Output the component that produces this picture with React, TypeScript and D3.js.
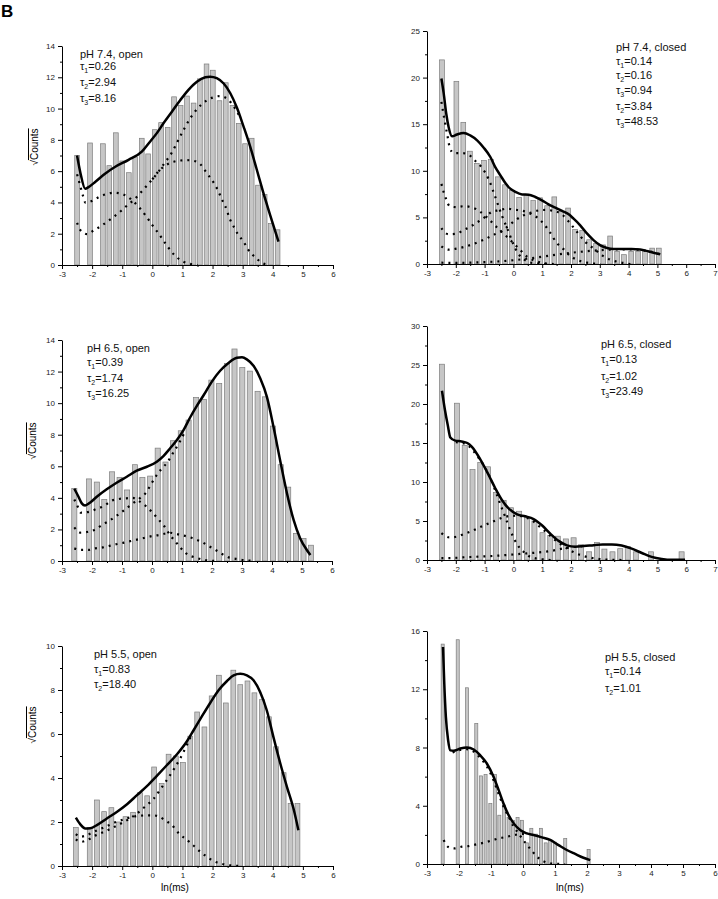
import { useEffect, useRef } from "react";
import * as d3 from "d3";

type Pt = [number, number];

// ---------- pH 7.4, open ----------
const open74Bins = [-2.5, -2.07, -1.64, -1.43, -1.21, -1.0, -0.78, -0.57, -0.35, -0.14, 0.08, 0.29, 0.51, 0.72, 0.94, 1.15, 1.37, 1.58, 1.8, 2.01, 2.23, 2.44, 2.66, 2.87, 3.08, 3.3, 3.51, 3.73, 3.94, 4.16];
const open74Counts = [7.0, 7.8, 7.75, 6.35, 8.45, 6.65, 5.9, 6.9, 8.1, 7.1, 8.65, 9.1, 8.8, 10.75, 10.2, 10.8, 10.35, 11.9, 12.85, 12.45, 10.5, 11.65, 10.2, 9.05, 7.75, 8.1, 5.1, 4.5, 2.65, 2.25];
const open74Fit: Pt[] = [[-2.5, 7.0], [-2.39, 5.9], [-2.23, 4.88], [-2.12, 4.98], [-1.89, 5.32], [-1.56, 5.85], [-1.23, 6.28], [-0.79, 6.72], [-0.35, 7.25], [-0.07, 7.9], [0.15, 8.43], [0.37, 9.06], [0.65, 9.8], [0.93, 10.55], [1.2, 11.2], [1.48, 11.72], [1.76, 12.0], [1.92, 12.04], [2.14, 11.94], [2.37, 11.6], [2.59, 10.98], [2.81, 10.05], [3.03, 8.85], [3.25, 7.57], [3.47, 6.09], [3.69, 4.6], [3.91, 3.2], [4.19, 1.5]];
const open74C1: Pt[] = [[-2.5, 5.8], [-2.42, 5.25], [-2.3, 4.4], [-2.22, 3.98], [-2.0, 4.1], [-1.76, 4.36], [-1.53, 4.53], [-1.29, 4.62], [-1.05, 4.57], [-0.82, 4.36], [-0.62, 4.05], [-0.4, 3.6], [-0.2, 3.1], [0.0, 2.55], [0.25, 1.9], [0.5, 1.2], [0.75, 0.6], [1.0, 0.24], [1.25, 0.07], [1.5, 0.0]];
const open74C2: Pt[] = [[0.0, 5.48], [0.21, 6.0], [0.45, 6.38], [0.71, 6.6], [0.93, 6.68], [1.15, 6.7], [1.37, 6.66], [1.59, 6.45], [1.78, 5.96], [1.94, 5.53], [2.09, 5.1], [2.2, 4.68], [2.31, 4.19], [2.42, 3.77], [2.59, 2.87], [2.72, 2.4], [2.86, 1.91], [3.03, 1.49], [3.19, 0.96], [3.42, 0.49], [3.64, 0.15], [3.91, 0.0]];
const open74C3: Pt[] = [[-2.5, 2.7], [-2.39, 2.23], [-2.17, 1.98], [-1.93, 2.23], [-1.69, 2.51], [-1.47, 2.81], [-1.25, 3.13], [-1.03, 3.47], [-0.82, 3.83], [-0.62, 4.15], [-0.4, 4.6], [-0.2, 5.04], [0.0, 5.48], [0.2, 5.95], [0.4, 6.5], [0.63, 7.13], [0.8, 7.75], [1.0, 8.5], [1.25, 9.35], [1.5, 10.0], [1.75, 10.45], [2.0, 10.7], [2.25, 10.8], [2.5, 10.6], [2.75, 10.0], [2.9, 9.5]];
const open74Tau = [["1", "0.26"], ["2", "2.94"], ["3", "8.16"]];

// ---------- pH 7.4, closed ----------
const closed74Bins = [-2.48, -1.98, -1.74, -1.51, -1.27, -1.02, -0.78, -0.54, -0.29, -0.05, 0.2, 0.45, 0.69, 0.93, 1.17, 1.42, 1.66, 1.9, 2.14, 2.39, 2.63, 2.87, 3.12, 3.36, 3.6, 3.84, 4.09, 4.33, 4.57, 4.82, 5.05];
const closed74Counts = [21.9, 19.6, 15.2, 12.1, 10.8, 11.1, 11.2, 9.35, 8.5, 7.9, 7.15, 7.35, 6.8, 7.1, 6.25, 7.2, 5.65, 6.0, 3.7, 3.6, 2.6, 2.2, 2.05, 3.0, 1.35, 1.0, 1.35, 1.35, 1.45, 1.7, 1.7];
const closed74Fit: Pt[] = [[-2.5, 19.9], [-2.42, 18.3], [-2.33, 16.1], [-2.25, 14.7], [-2.13, 13.7], [-1.96, 13.9], [-1.73, 14.06], [-1.5, 13.8], [-1.26, 13.27], [-1.03, 12.48], [-0.8, 11.48], [-0.63, 10.4], [-0.45, 9.51], [-0.28, 8.69], [-0.11, 8.08], [0.07, 7.73], [0.3, 7.47], [0.53, 7.44], [0.76, 7.19], [0.99, 6.83], [1.22, 6.4], [1.46, 6.04], [1.69, 5.69], [1.92, 5.33], [2.09, 4.86], [2.32, 4.15], [2.56, 3.25], [2.79, 2.54], [3.02, 2.0], [3.25, 1.72], [3.48, 1.62], [3.8, 1.62], [4.1, 1.62], [4.4, 1.55], [4.7, 1.35], [5.1, 1.05]];
const closed74C1: Pt[] = [[-2.5, 17.4], [-2.4, 15.6], [-2.28, 13.6], [-2.21, 12.5], [-2.07, 11.9], [-1.82, 11.9], [-1.59, 11.8], [-1.34, 11.1], [-1.11, 10.4], [-0.86, 9.1], [-0.63, 7.2], [-0.4, 5.2], [-0.16, 3.4], [-0.01, 2.2], [0.15, 1.2], [0.38, 0.46], [0.7, 0.1], [1.17, 0.0]];
const closed74C2: Pt[] = [[-2.5, 8.6], [-2.42, 7.7], [-2.34, 7.0], [-2.21, 6.2], [-1.98, 6.1], [-1.73, 6.2], [-1.46, 6.1], [-1.15, 5.6], [-0.92, 5.0], [-0.69, 4.3], [-0.4, 3.4], [-0.22, 2.9], [0.01, 2.2], [0.24, 1.5], [0.47, 0.8], [0.7, 0.4], [1.05, 0.1], [1.4, 0.0]];
const closed74C3: Pt[] = [[-2.5, 3.86], [-2.36, 3.33], [-2.25, 3.2], [-1.98, 3.25], [-1.75, 3.6], [-1.5, 4.0], [-1.24, 4.5], [-1.0, 5.0], [-0.74, 5.6], [-0.51, 5.76], [-0.22, 5.94], [0.04, 5.83], [0.33, 5.7], [0.59, 5.4], [0.82, 5.0], [1.05, 4.33], [1.28, 3.33], [1.51, 2.25], [1.72, 1.65], [1.95, 0.93], [2.2, 0.46], [2.56, 0.14], [3.02, 0.0]];
const closed74C4: Pt[] = [[-2.5, 1.9], [-2.25, 1.54], [-1.98, 1.65], [-1.73, 1.82], [-1.46, 2.07], [-1.21, 2.36], [-0.95, 2.72], [-0.72, 3.08], [-0.48, 3.43], [-0.22, 3.97], [0.03, 4.6], [0.3, 5.15], [0.59, 5.5], [0.88, 5.75], [1.11, 5.8], [1.4, 5.7], [1.69, 5.3], [1.98, 4.33], [2.21, 3.43], [2.5, 2.36], [2.79, 1.65], [3.08, 0.93], [3.37, 0.46], [3.71, 0.18], [4.06, 0.0]];
const closed74C5: Pt[] = [[-2.5, 0.14], [-2.0, 0.12], [-1.5, 0.15], [-1.0, 0.2], [-0.5, 0.28], [0.0, 0.4], [0.5, 0.58], [1.0, 0.78], [1.5, 1.0], [2.0, 1.2], [2.5, 1.36], [3.0, 1.48], [3.5, 1.56], [4.0, 1.58], [4.5, 1.48], [5.1, 1.03]];
const closed74Tau = [["1", "0.14"], ["2", "0.16"], ["3", "0.94"], ["2", "3.84"], ["3", "48.53"]];

// ---------- pH 6.5, open ----------
const open65Bins = [-2.59, -2.1, -1.84, -1.59, -1.33, -1.08, -0.83, -0.57, -0.32, -0.06, 0.19, 0.45, 0.7, 0.96, 1.22, 1.47, 1.73, 1.98, 2.24, 2.5, 2.75, 3.01, 3.26, 3.52, 3.77, 4.03, 4.29, 4.54, 4.8, 5.05, 5.3];
const open65Counts = [4.6, 5.2, 5.0, 3.9, 5.65, 5.3, 4.5, 6.1, 5.3, 5.38, 7.15, 6.27, 7.62, 8.25, 8.93, 10.36, 10.23, 11.46, 11.25, 12.51, 13.43, 12.26, 12.03, 10.75, 10.4, 8.55, 6.1, 4.68, 1.75, 1.43, 1.0];
const open65Fit: Pt[] = [[-2.59, 4.58], [-2.45, 4.07], [-2.34, 3.65], [-2.23, 3.52], [-2.07, 3.69], [-1.84, 4.07], [-1.51, 4.54], [-1.18, 4.96], [-0.84, 5.34], [-0.51, 5.72], [-0.17, 5.97], [0.16, 6.29], [0.38, 6.65], [0.6, 7.13], [0.83, 7.66], [1.05, 8.29], [1.27, 9.09], [1.49, 9.81], [1.72, 10.5], [1.99, 11.35], [2.27, 12.05], [2.55, 12.55], [2.83, 12.87], [3.0, 12.9], [3.16, 12.77], [3.39, 12.35], [3.61, 11.56], [3.83, 10.4], [4.05, 8.5], [4.27, 6.39], [4.5, 4.28], [4.72, 2.6], [4.94, 1.43], [5.16, 0.7], [5.28, 0.38]];
const open65C1: Pt[] = [[-2.59, 3.9], [-2.5, 3.55], [-2.37, 3.06], [-2.09, 3.12], [-1.85, 3.3], [-1.61, 3.48], [-1.35, 3.82], [-1.1, 3.93], [-0.86, 3.97], [-0.64, 4.0], [-0.44, 3.8], [-0.22, 3.5], [0.0, 3.1], [0.23, 2.6], [0.41, 2.2], [0.6, 1.65], [0.76, 1.28], [0.97, 0.8], [1.18, 0.42], [1.43, 0.23], [1.67, 0.1], [1.9, 0.03], [2.2, 0.0]];
const open65C2: Pt[] = [[-2.59, 0.8], [-2.37, 0.7], [-2.13, 0.7], [-1.89, 0.8], [-1.64, 0.86], [-1.39, 0.97], [-1.16, 1.08], [-0.94, 1.16], [-0.7, 1.27], [-0.46, 1.37], [-0.22, 1.48], [0.0, 1.58], [0.25, 1.65], [0.47, 1.75], [0.6, 1.79], [0.73, 1.75], [0.95, 1.65], [1.2, 1.54], [1.43, 1.39], [1.65, 1.22], [1.89, 0.95], [2.12, 0.7], [2.34, 0.44], [2.56, 0.23], [2.84, 0.13], [3.06, 0.06], [3.34, 0.02]];
const open65C3: Pt[] = [[-2.59, 2.13], [-2.37, 1.79], [-2.11, 1.86], [-1.89, 2.0], [-1.67, 2.28], [-1.44, 2.53], [-1.22, 2.81], [-1.0, 3.12], [-0.78, 3.44], [-0.57, 3.75], [-0.39, 4.0], [-0.19, 4.35], [-0.05, 4.8], [0.14, 5.4], [0.3, 5.8], [0.49, 6.2], [0.72, 6.9], [0.94, 7.6], [1.1, 8.2]];
const open65Tau = [["1", "0.39"], ["2", "1.74"], ["3", "16.25"]];

// ---------- pH 6.5, closed ----------
const closed65Bins = [-2.48, -1.96, -1.69, -1.42, -1.15, -0.88, -0.61, -0.34, -0.08, 0.2, 0.47, 0.73, 1.01, 1.28, 1.54, 1.82, 2.09, 2.35, 2.63, 2.9, 3.16, 3.44, 3.71, 3.97, 4.25, 4.78, 5.84];
const closed65Counts = [25.1, 20.1, 14.7, 11.6, 12.5, 11.95, 8.65, 7.65, 6.7, 6.25, 5.5, 5.0, 3.5, 3.15, 3.05, 2.7, 2.85, 1.95, 1.05, 2.25, 1.4, 1.05, 1.45, 1.75, 1.05, 1.05, 1.05];
const closed65Fit: Pt[] = [[-2.48, 21.7], [-2.38, 19.3], [-2.28, 17.3], [-2.19, 15.7], [-2.02, 15.3], [-1.8, 15.2], [-1.6, 15.0], [-1.44, 14.5], [-1.15, 12.9], [-0.86, 10.9], [-0.63, 9.2], [-0.4, 7.7], [-0.16, 6.6], [0.13, 5.86], [0.41, 5.6], [0.7, 5.25], [0.99, 4.45], [1.28, 3.38], [1.57, 2.45], [1.86, 1.88], [2.15, 1.7], [2.44, 1.78], [2.79, 1.9], [3.1, 2.0], [3.42, 2.0], [3.76, 1.85], [4.11, 1.45], [4.46, 0.9], [4.8, 0.4], [5.15, 0.13], [5.5, 0.02], [5.96, 0.02]];
const closed65C1: Pt[] = [[-2.0, 15.1], [-1.8, 15.0], [-1.6, 14.75], [-1.44, 14.2], [-1.21, 13.1], [-0.98, 11.8], [-0.8, 10.5], [-0.63, 8.9], [-0.46, 7.2], [-0.28, 5.5], [-0.14, 4.1], [0.0, 2.9], [0.13, 2.0], [0.36, 1.03], [0.59, 0.4], [0.99, 0.1], [1.3, 0.0]];
const closed65C2: Pt[] = [[-2.5, 3.45], [-2.22, 2.9], [-1.96, 3.0], [-1.7, 3.35], [-1.44, 3.72], [-1.17, 4.2], [-0.92, 4.6], [-0.63, 5.05], [-0.36, 5.45], [-0.1, 5.65], [0.15, 5.68], [0.4, 5.5], [0.65, 5.05], [0.9, 4.3], [1.15, 3.55], [1.4, 2.7], [1.65, 2.0], [1.9, 1.4], [2.15, 0.9], [2.4, 0.55], [2.7, 0.28], [3.0, 0.12], [3.4, 0.03], [3.8, 0.0]];
const closed65C3: Pt[] = [[-2.5, 0.25], [-2.2, 0.25], [-1.7, 0.35], [-1.2, 0.43], [-0.7, 0.52], [-0.2, 0.65], [0.3, 0.8], [0.8, 0.95], [1.2, 1.1], [1.5, 1.3], [1.75, 1.5], [2.1, 1.67], [2.4, 1.77]];
const closed65Tau = [["1", "0.13"], ["2", "1.02"], ["3", "23.49"]];

// ---------- pH 5.5, open ----------
const open55Bins = [-2.54, -2.08, -1.84, -1.6, -1.36, -1.12, -0.89, -0.64, -0.41, -0.17, 0.06, 0.31, 0.54, 0.78, 1.02, 1.26, 1.49, 1.73, 1.97, 2.21, 2.44, 2.69, 2.92, 3.16, 3.39, 3.64, 3.87, 4.11, 4.36, 4.59, 4.82];
const open55Counts = [1.75, 1.75, 3.0, 2.47, 2.65, 2.0, 2.24, 2.44, 3.33, 3.19, 4.5, 3.75, 5.08, 5.0, 4.7, 5.9, 7.0, 6.32, 7.73, 8.67, 7.41, 8.9, 8.24, 8.41, 7.87, 7.56, 6.78, 5.42, 4.24, 2.84, 2.84];
const open55Fit: Pt[] = [[-2.54, 2.2], [-2.39, 1.89], [-2.23, 1.71], [-2.06, 1.72], [-1.84, 1.86], [-1.51, 2.16], [-1.17, 2.47], [-0.84, 2.81], [-0.51, 3.22], [-0.18, 3.63], [0.15, 4.1], [0.48, 4.58], [0.82, 5.08], [1.15, 5.67], [1.37, 6.17], [1.65, 6.81], [1.92, 7.41], [2.2, 7.99], [2.48, 8.41], [2.7, 8.67], [2.92, 8.74], [3.14, 8.67], [3.36, 8.44], [3.58, 7.91], [3.8, 7.08], [4.02, 5.87], [4.25, 4.66], [4.47, 3.6], [4.69, 2.6], [4.85, 1.63]];
const open55C1: Pt[] = [[-2.54, 1.45], [-2.39, 1.33], [-2.17, 1.4], [-1.95, 1.55], [-1.7, 1.7], [-1.45, 1.85], [-1.2, 2.0], [-0.95, 2.12], [-0.7, 2.22], [-0.45, 2.28], [-0.2, 2.3], [0.05, 2.3], [0.26, 2.22], [0.45, 2.05], [0.65, 1.86], [0.9, 1.45], [1.13, 1.21], [1.35, 0.95], [1.59, 0.65], [1.81, 0.42], [2.01, 0.24], [2.25, 0.12], [2.48, 0.05], [2.9, 0.0]];
const open55C2: Pt[] = [[-2.54, 1.21], [-2.37, 1.1], [-2.15, 1.18], [-1.95, 1.35], [-1.7, 1.5], [-1.45, 1.65], [-1.2, 1.82], [-0.95, 2.0], [-0.7, 2.2], [-0.45, 2.45], [-0.2, 2.75], [0.04, 3.05], [0.25, 3.45], [0.48, 3.9], [0.71, 4.39], [0.93, 4.9], [1.13, 5.45], [1.3, 5.95]];
const open55Tau = [["1", "0.83"], ["2", "18.40"]];

// ---------- pH 5.5, closed ----------
const closed55Bins = [-2.51, -2.04, -1.75, -1.46, -1.31, -1.17, -1.02, -0.88, -0.74, -0.59, -0.45, -0.31, -0.17, -0.03, 0.12, 0.26, 0.41, 0.56, 0.71, 0.85, 1.0, 1.32, 2.05];
const closed55Counts = [15.1, 15.4, 12.1, 9.65, 6.05, 6.15, 4.15, 6.15, 3.35, 4.05, 3.2, 3.0, 3.2, 3.0, 1.45, 2.45, 2.05, 2.45, 1.45, 1.65, 1.5, 1.75, 1.0];
const closed55Fit: Pt[] = [[-2.5, 14.9], [-2.46, 12.4], [-2.41, 10.1], [-2.34, 8.5], [-2.27, 7.8], [-2.17, 7.77], [-1.96, 7.93], [-1.75, 8.0], [-1.54, 7.86], [-1.34, 7.47], [-1.13, 6.9], [-0.92, 5.99], [-0.76, 5.07], [-0.61, 4.16], [-0.45, 3.36], [-0.29, 2.79], [-0.09, 2.33], [0.12, 2.1], [0.33, 1.99], [0.59, 1.83], [0.85, 1.65], [1.11, 1.3], [1.37, 0.96], [1.63, 0.69], [1.89, 0.43], [2.1, 0.27]];
const closed55C1: Pt[] = [[-2.2, 7.65], [-1.96, 7.83], [-1.75, 7.88], [-1.54, 7.72], [-1.34, 7.3], [-1.13, 6.7], [-0.92, 5.75], [-0.76, 4.8], [-0.6, 3.9], [-0.45, 3.25], [-0.3, 2.6], [-0.14, 2.1], [0.04, 1.55], [0.26, 0.95], [0.49, 0.4], [0.75, 0.1], [1.0, 0.02], [1.3, 0.0]];
const closed55C2: Pt[] = [[-2.48, 1.65], [-2.35, 1.19], [-2.15, 1.07], [-1.91, 1.19], [-1.7, 1.23], [-1.46, 1.35], [-1.23, 1.46], [-1.0, 1.6], [-0.76, 1.76], [-0.5, 1.87], [-0.27, 1.99], [-0.07, 2.06], [0.12, 2.08]];
const closed55Tau = [["1", "0.14"], ["2", "1.01"]];

const FONT = "'Liberation Sans', Arial, Helvetica, sans-serif";

const panels = [
  { title: "pH 7.4, open", tau: open74Tau, bins: open74Bins, counts: open74Counts, fit: open74Fit, comps: [open74C1, open74C2, open74C3],
    xMax: 6, yMax: 14, yStep: 2, left: 62, right: 333, bottom: 265, top: 46, barW: 0.155,
    tx: 80, ty: [58, 70, 86, 102], yTitle: [38, 147], xTitle: null as null | number[] },
  { title: "pH 7.4, closed", tau: closed74Tau, bins: closed74Bins, counts: closed74Counts, fit: closed74Fit, comps: [closed74C1, closed74C2, closed74C3, closed74C4, closed74C5],
    xMax: 7, yMax: 25, yStep: 5, left: 427, right: 715, bottom: 264, top: 31, barW: 0.165,
    tx: 616, ty: [51, 64.5, 79, 94, 109.5, 125], yTitle: null as null | number[], xTitle: null },
  { title: "pH 6.5, open", tau: open65Tau, bins: open65Bins, counts: open65Counts, fit: open65Fit, comps: [open65C1, open65C2, open65C3],
    xMax: 6, yMax: 14, yStep: 2, left: 62, right: 332, bottom: 561, top: 340, barW: 0.17,
    tx: 87, ty: [352, 365.5, 381.5, 396.5], yTitle: [36, 441], xTitle: null },
  { title: "pH 6.5, closed", tau: closed65Tau, bins: closed65Bins, counts: closed65Counts, fit: closed65Fit, comps: [closed65C1, closed65C2, closed65C3],
    xMax: 7, yMax: 30, yStep: 5, left: 427, right: 715, bottom: 560, top: 326, barW: 0.175,
    tx: 601, ty: [348, 362.5, 380, 395], yTitle: null, xTitle: null },
  { title: "pH 5.5, open", tau: open55Tau, bins: open55Bins, counts: open55Counts, fit: open55Fit, comps: [open55C1, open55C2],
    xMax: 6, yMax: 10, yStep: 2, left: 62, right: 333, bottom: 866, top: 646, barW: 0.16,
    tx: 94, ty: [658, 673, 687.5], yTitle: [36, 725], xTitle: [175, 891] },
  { title: "pH 5.5, closed", tau: closed55Tau, bins: closed55Bins, counts: closed55Counts, fit: closed55Fit, comps: [closed55C1, closed55C2],
    xMax: 6, yMax: 16, yStep: 4, left: 427, right: 715, bottom: 864, top: 631, barW: 0.095,
    tx: 605, ty: [661, 674.5, 692], yTitle: null, xTitle: [570, 891] },
];

export default function App() {
  const ref = useRef<SVGSVGElement>(null);

  useEffect(() => {
    const svg = d3.select(ref.current);
    svg.selectAll("*").remove();

    svg.append("text").attr("x", 1).attr("y", 17).attr("font-family", FONT)
      .attr("font-size", 17).attr("font-weight", "bold").text("B");

    panels.forEach((p) => {
      const x = d3.scaleLinear().domain([-3, p.xMax]).range([p.left, p.right]);
      const y = d3.scaleLinear().domain([0, p.yMax]).range([p.bottom, p.top]);
      const g = svg.append("g");

      // histogram bars
      g.selectAll("rect")
        .data(p.bins.map((b, i) => ({ b, c: p.counts[i] })))
        .join("rect")
        .attr("x", (d) => x(d.b - p.barW / 2))
        .attr("width", x(p.barW) - x(0))
        .attr("y", (d) => y(d.c))
        .attr("height", (d) => y(0) - y(d.c))
        .attr("fill", "#c6c6c6")
        .attr("stroke", "#7c7c7c")
        .attr("stroke-width", 0.7);

      const line = d3.line<Pt>().x((d) => x(d[0])).y((d) => y(d[1])).curve(d3.curveMonotoneX);

      // fitted components (dotted)
      p.comps.forEach((c) => {
        g.append("path").attr("d", line(c)).attr("fill", "none").attr("stroke", "#000")
          .attr("stroke-width", 2.2).attr("stroke-dasharray", "2 5");
      });

      // total fit
      g.append("path").attr("d", line(p.fit)).attr("fill", "none").attr("stroke", "#000")
        .attr("stroke-width", 2.5).attr("stroke-linejoin", "round");

      // axes
      const xAxis = g.append("g").attr("transform", `translate(0,${p.bottom})`)
        .call(d3.axisBottom(x).tickValues(d3.range(-3, p.xMax + 0.01, 1)).tickSize(4).tickSizeOuter(0).tickPadding(2).tickFormat((d) => String(d)));
      g.append("g").attr("transform", `translate(0,${p.bottom})`)
        .call(d3.axisBottom(x).tickValues(d3.range(-2.5, p.xMax, 1)).tickSize(2).tickFormat(() => ""))
        .call((s) => s.select(".domain").remove());
      const yAxis = g.append("g").attr("transform", `translate(${p.left},0)`)
        .call(d3.axisLeft(y).tickValues(d3.range(0, p.yMax + 0.01, p.yStep)).tickSize(4).tickSizeOuter(0).tickPadding(3).tickFormat((d) => String(d)));
      g.append("g").attr("transform", `translate(${p.left},0)`)
        .call(d3.axisLeft(y).tickValues(d3.range(p.yStep / 2, p.yMax, p.yStep)).tickSize(2).tickFormat(() => ""))
        .call((s) => s.select(".domain").remove());
      [xAxis, yAxis].forEach((a) => {
        a.attr("font-family", FONT).attr("font-size", 8);
        a.selectAll("text").attr("fill", "#222");
      });
      g.selectAll(".domain, .tick line").attr("stroke", "#000").attr("stroke-width", 1);

      // annotation
      const t = g.append("g").attr("font-family", FONT).attr("font-size", 11).attr("fill", "#111");
      t.append("text").attr("x", p.tx).attr("y", p.ty[0]).text(p.title);
      p.tau.forEach(([sub, val], i) => {
        const txt = t.append("text").attr("x", p.tx).attr("y", p.ty[i + 1]);
        txt.append("tspan").text("τ");
        txt.append("tspan").attr("font-size", 7).attr("dy", 3).text(sub);
        txt.append("tspan").attr("dy", -3).text("=" + val);
      });

      if (p.yTitle) {
        const yt = g.append("text").attr("font-family", FONT).attr("font-size", 10)
          .attr("text-anchor", "middle")
          .attr("transform", `translate(${p.yTitle[0]},${p.yTitle[1]}) rotate(-90)`);
        yt.append("tspan").text("√");
        yt.append("tspan").style("text-decoration", "overline").text("Counts");
      }
      if (p.xTitle) {
        g.append("text").attr("x", p.xTitle[0]).attr("y", p.xTitle[1]).attr("font-family", FONT)
          .attr("font-size", 10).attr("text-anchor", "middle").text("ln(ms)");
      }
    });
  }, []);

  return (
    <svg ref={ref} width={718} height={899}
      style={{ position: "absolute", left: 0, top: 0, background: "#fff" }} />
  );
}
